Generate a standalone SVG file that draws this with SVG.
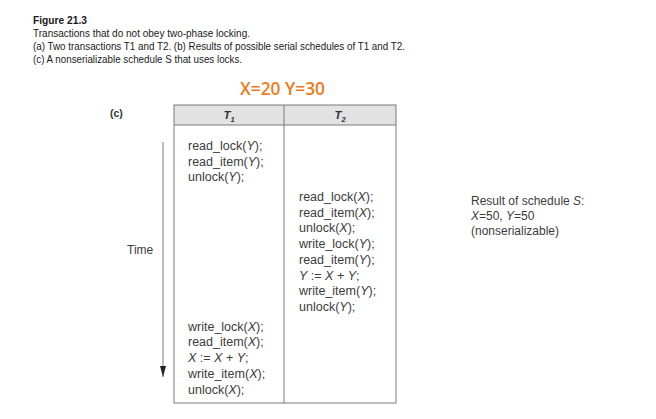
<svg xmlns="http://www.w3.org/2000/svg" width="656" height="419" viewBox="0 0 656 419">
<style>
.cap{font-family:"Liberation Sans",Arial,sans-serif;font-size:11px;fill:#1a1a1a}
.b{font-family:"Liberation Sans",Arial,sans-serif;font-size:12.5px;fill:#3c3c3c}
.r{font-family:"Liberation Sans",Arial,sans-serif;font-size:12px;fill:#3c3c3c}
.i{font-style:italic}
.grid{fill:none;stroke:#7a7a7a;stroke-width:1}
</style>
<defs>
<marker id="ah" markerWidth="12" markerHeight="8" refX="11" refY="3" orient="auto" markerUnits="userSpaceOnUse" viewBox="0 0 12 8">
<path d="M0,0 L11,3 L0,6 Z" fill="#222"/>
</marker>
</defs>
<rect width="656" height="419" fill="#fff"/>
<g id="caption">
<text class="cap" x="33" y="24" font-weight="bold" textLength="54" lengthAdjust="spacingAndGlyphs">Figure 21.3</text>
<text class="cap" x="33" y="37" textLength="217" lengthAdjust="spacingAndGlyphs">Transactions that do not obey two-phase locking.</text>
<text class="cap" x="33" y="50" textLength="372" lengthAdjust="spacingAndGlyphs">(a) Two transactions T1 and T2. (b) Results of possible serial schedules of T1 and T2.</text>
<text class="cap" x="33" y="63" textLength="209" lengthAdjust="spacingAndGlyphs">(c) A nonserializable schedule S that uses locks.</text>
</g>
<g id="values">
<text x="240" y="95" font-family="'Open Sans','Noto Sans',sans-serif" font-size="18" font-weight="600" fill="#f07a1a" textLength="85" lengthAdjust="spacingAndGlyphs">X=20 Y=30</text>
</g>
<g id="label-c">
<text x="110" y="117" font-family="'Liberation Sans',Arial,sans-serif" font-size="10.5" font-weight="bold" fill="#333">(c)</text>
</g>
<g id="table">
<rect x="174" y="105" width="222" height="20" fill="#e2e2e2"/>
<rect class="grid" x="174" y="105" width="222" height="298"/>
<line class="grid" x1="174" y1="125" x2="396" y2="125"/>
<line class="grid" x1="284" y1="105" x2="284" y2="403"/>
<text x="229" y="119" text-anchor="middle" font-family="'Liberation Sans',Arial,sans-serif" font-size="11.5" font-weight="bold" font-style="italic" fill="#333">T<tspan font-size="7.5" dy="2.5">1</tspan></text>
<text x="340" y="119" text-anchor="middle" font-family="'Liberation Sans',Arial,sans-serif" font-size="11.5" font-weight="bold" font-style="italic" fill="#333">T<tspan font-size="7.5" dy="2.5">2</tspan></text>
</g>
<g id="t1-first">
<text class="b" x="188" y="150">read_lock(<tspan class="i">Y</tspan>);</text>
<text class="b" x="188" y="165.7">read_item(<tspan class="i">Y</tspan>);</text>
<text class="b" x="188" y="181.4">unlock(<tspan class="i">Y</tspan>);</text>
</g>
<g id="t2-ops">
<text class="b" x="299" y="201">read_lock(<tspan class="i">X</tspan>);</text>
<text class="b" x="299" y="216.7">read_item(<tspan class="i">X</tspan>);</text>
<text class="b" x="299" y="232.4">unlock(<tspan class="i">X</tspan>);</text>
<text class="b" x="299" y="248.1">write_lock(<tspan class="i">Y</tspan>);</text>
<text class="b" x="299" y="263.8">read_item(<tspan class="i">Y</tspan>);</text>
<text class="b" x="299" y="279.5"><tspan class="i">Y</tspan> := <tspan class="i">X</tspan> + <tspan class="i">Y</tspan>;</text>
<text class="b" x="299" y="295.2">write_item(<tspan class="i">Y</tspan>);</text>
<text class="b" x="299" y="310.9">unlock(<tspan class="i">Y</tspan>);</text>
</g>
<g id="t1-second">
<text class="b" x="188" y="330.7">write_lock(<tspan class="i">X</tspan>);</text>
<text class="b" x="188" y="346.4">read_item(<tspan class="i">X</tspan>);</text>
<text class="b" x="188" y="362.1"><tspan class="i">X</tspan> := <tspan class="i">X</tspan> + <tspan class="i">Y</tspan>;</text>
<text class="b" x="188" y="377.8">write_item(<tspan class="i">X</tspan>);</text>
<text class="b" x="188" y="393.5">unlock(<tspan class="i">X</tspan>);</text>
</g>
<g id="time">
<text class="r" x="127" y="254">Time</text>
</g>
<g id="connectors">
<line x1="163" y1="142" x2="163" y2="377" stroke="#7a7a7a" stroke-width="1" marker-end="url(#ah)"/>
</g>
<g id="result">
<text class="r" x="471" y="205">Result of schedule <tspan class="i">S</tspan>:</text>
<text class="r" x="471" y="220"><tspan class="i">X</tspan>=50, <tspan class="i">Y</tspan>=50</text>
<text class="r" x="471" y="235">(nonserializable)</text>
</g>
</svg>
